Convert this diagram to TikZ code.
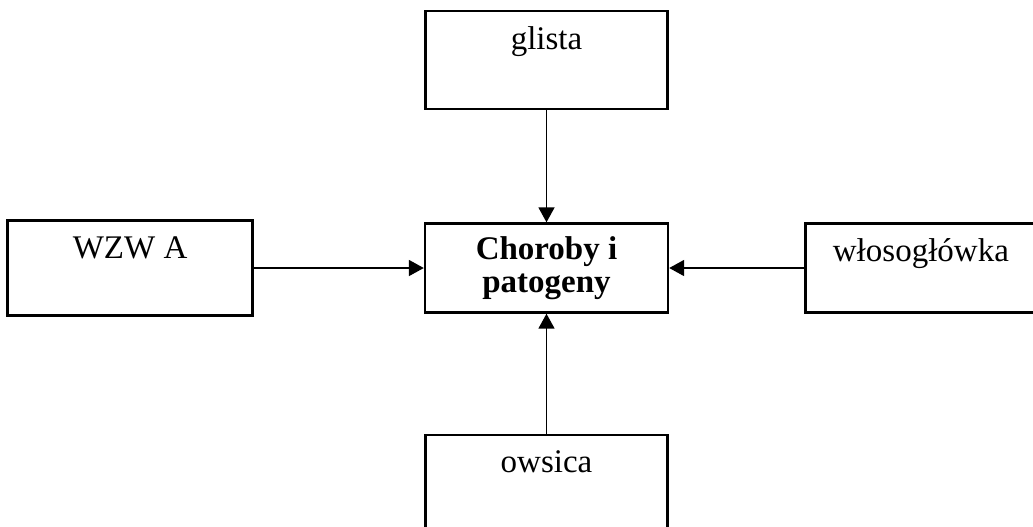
\documentclass[tikz,border=0pt]{standalone}
\usepackage{fontspec}
\setmainfont{Liberation Serif}
\usetikzlibrary{positioning,arrows.meta}

\begin{document}
\begin{tikzpicture}[
    x=0.5pt, y=-0.5pt,
    box/.style={rectangle, draw, line width=1.2pt, inner sep=0pt, minimum width=121pt, text height=19pt, font=\fontsize{16.5}{16.5}\selectfont},
    mainbox/.style={rectangle, draw, line width=1.2pt, inner sep=0pt, minimum width=121.5pt, minimum height=44.5pt, align=center, font=\fontsize{16.5}{16.5}\selectfont\bfseries},
    arrow/.style={-{Triangle[length=7.5pt,width=8pt]}, line width=0.9pt},
]
\useasboundingbox (0,0) rectangle (1033,526);

% Center
\node[mainbox] (choroby) at (546.5,268) {Choroby i\\patogeny};

% Surrounding boxes
\node[box, text depth=30pt, above=56pt of choroby] (glista) {glista};
\node[box, text depth=28.5pt, minimum width=122.5pt, left=85pt of choroby] (wzw) {WZW A};
\node[box, text depth=25.5pt, minimum width=115.5pt, right=67.5pt of choroby] (wlos) {włosogłówka};
\node[box, text depth=30pt, below=60pt of choroby] (owsica) {owsica};

\draw[arrow] (glista) -- (choroby);
\draw[arrow] (wzw.east) -- (wzw.east -| choroby.west);
\draw[arrow] (wlos.west) -- (wlos.west -| choroby.east);
\draw[arrow] (owsica.north) -- (owsica.north |- choroby.south);

\end{tikzpicture}
\end{document}
